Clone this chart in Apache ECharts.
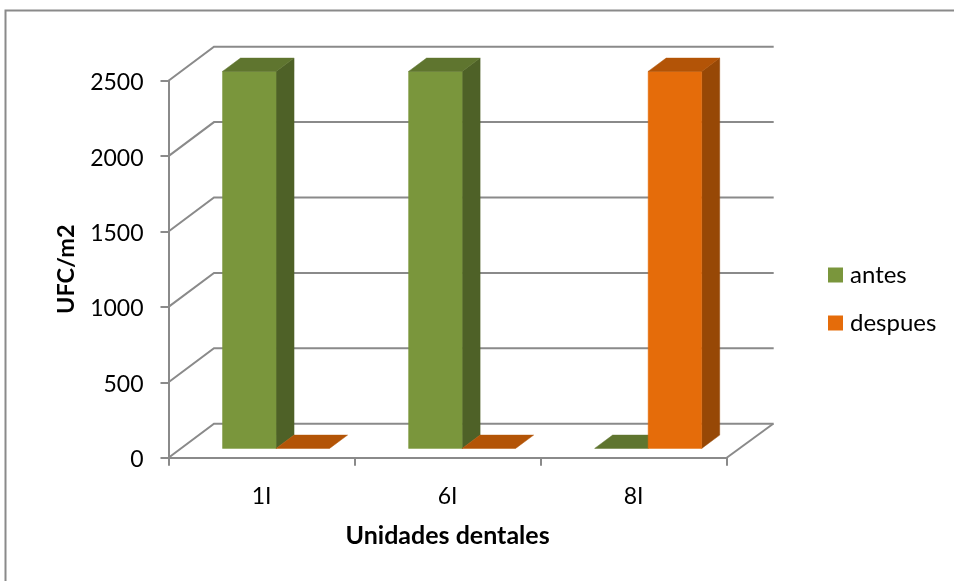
<!DOCTYPE html>
<html>
<head>
<meta charset="utf-8">
<style>html,body{margin:0;padding:0;background:#fff}#chart{width:954px;height:581px}</style>
<script src="https://cdn.jsdelivr.net/npm/echarts@6/dist/echarts.min.js"></script>
</head>
<body>
<div id="chart"></div>
<script>
const categories = ['1I', '6I', '8I'];
const antes = [2500, 2500, 0];
const despues = [0, 0, 2500];
const yTicks = [0, 500, 1000, 1500, 2000, 2500];

// Oblique projection of the chart box: how far the back wall sits from the front plane.
const WALL_DX = 45.5, WALL_DY = 34;
// Columns occupy a slab inside that depth.
const BAR_DX0 = 14.5, BAR_DY0 = 9.3, BAR_DX1 = 32.5, BAR_DY1 = 22.6;
const BAR_BAND = 0.2876;
const LINE = '#8a8a8a';

function poly(points, fill) {
  return {
    type: 'polygon',
    shape: { points },
    style: { fill, stroke: fill, lineWidth: 0.5 },
    silent: true
  };
}

// Draws one column as front, side and top faces; slot is -1 for the left column and 0 for the right.
function columnRenderer(slot, sideFill, topFill) {
  return function (params, api) {
    const base = api.coord([api.value(0), 0]);
    const head = api.coord([api.value(0), api.value(1)]);
    const band = api.size([1, 0])[0];
    const w = band * BAR_BAND;
    const x0 = base[0] + BAR_DX0 + slot * w;
    const x1 = x0 + w;
    const yb = base[1] - BAR_DY0;
    const yt = head[1] - BAR_DY0;
    const ddx = BAR_DX1 - BAR_DX0, ddy = BAR_DY1 - BAR_DY0;
    const children = [];
    if (yb - yt > 0.5) {
      children.push(poly([[x1, yt], [x1 + ddx, yt - ddy], [x1 + ddx, yb - ddy], [x1, yb]], sideFill));
      children.push(poly([[x0, yt], [x1, yt], [x1, yb], [x0, yb]], api.visual('color')));
    }
    children.push(poly([[x0, yt], [x0 + ddx, yt - ddy], [x1 + ddx, yt - ddy], [x1, yt]], topFill));
    return { type: 'group', children };
  };
}

// Gridlines run along the side wall and then across the back wall.
function wallRenderer(params, api) {
  const v = api.value(1);
  const band = api.size([1, 0])[0];
  const first = api.coord([0, v]);
  const last = api.coord([categories.length - 1, v]);
  const left = first[0] - band / 2;
  const right = last[0] + band / 2;
  const y = first[1];
  const children = [{
    type: 'polyline',
    shape: { points: [[left, y], [left + WALL_DX, y - WALL_DY], [right + WALL_DX + 1.5, y - WALL_DY]] },
    style: { stroke: LINE, lineWidth: 2, fill: null },
    silent: true
  }];
  if (v === 0) {
    children.push({
      type: 'line',
      shape: { x1: right, y1: y, x2: right + WALL_DX + 1, y2: y - WALL_DY },
      style: { stroke: LINE, lineWidth: 2 },
      silent: true
    });
  }
  return { type: 'group', children };
}

const chart = echarts.init(document.getElementById('chart'), null, { renderer: 'canvas' });
const FONT = 'Lato';
chart.setOption({
  animation: false,
  backgroundColor: '#ffffff',
  textStyle: { fontFamily: FONT },
  graphic: [{
    type: 'polyline',
    shape: { points: [[5.5, 581], [5.5, 10.5], [954, 10.5]] },
    style: { stroke: LINE, lineWidth: 2, fill: null },
    silent: true
  }],
  grid: { left: 168.5, width: 558.2, top: 80.7, height: 377 },
  legend: {
    data: ['antes', 'despues'],
    orient: 'vertical',
    left: 823,
    top: 258,
    icon: 'rect',
    itemWidth: 15,
    itemHeight: 15,
    itemGap: 24,
    selectedMode: false,
    textStyle: { fontFamily: FONT, fontSize: 24, color: '#000', padding: [0, 0, 0, 2] }
  },
  xAxis: {
    type: 'category',
    data: categories,
    name: 'Unidades dentales',
    nameLocation: 'middle',
    nameGap: 66,
    nameTextStyle: { fontFamily: FONT, fontSize: 25, fontWeight: 'bold', color: '#000' },
    axisLine: { lineStyle: { color: LINE, width: 2 } },
    axisTick: { show: true, length: 8, lineStyle: { color: LINE, width: 2 } },
    axisLabel: { fontFamily: FONT, fontSize: 23, color: '#000', margin: 27 },
    splitLine: { show: false }
  },
  yAxis: {
    type: 'value',
    min: 0,
    max: 2500,
    interval: 500,
    name: 'UFC/m2',
    nameLocation: 'middle',
    nameGap: 90,
    nameRotate: 90,
    nameTextStyle: { fontFamily: FONT, fontSize: 23.5, fontWeight: 'bold', color: '#000' },
    axisLine: { show: true, lineStyle: { color: LINE, width: 2 } },
    axisTick: { show: true, length: 8, lineStyle: { color: LINE, width: 2 } },
    axisLabel: {
      fontFamily: FONT,
      fontSize: 23,
      color: '#000',
      margin: 25,
      verticalAlign: 'top',
      lineHeight: 4,
      formatter: v => String(v)
    },
    splitLine: { show: false }
  },
  series: [
    {
      type: 'custom',
      name: 'walls',
      silent: true,
      z: 1,
      renderItem: wallRenderer,
      data: yTicks.map(v => [0, v]),
      encode: { x: 0, y: 1 }
    },
    {
      type: 'custom',
      name: 'antes',
      z: 2,
      itemStyle: { color: '#7A963C' },
      renderItem: columnRenderer(-1, '#4E6127', '#5F752F'),
      data: antes.map((v, i) => [i, v]),
      encode: { x: 0, y: 1 }
    },
    {
      type: 'custom',
      name: 'despues',
      z: 3,
      itemStyle: { color: '#E56C0A' },
      renderItem: columnRenderer(0, '#974806', '#B35407'),
      data: despues.map((v, i) => [i, v]),
      encode: { x: 0, y: 1 }
    }
  ]
});
</script>
</body>
</html>
